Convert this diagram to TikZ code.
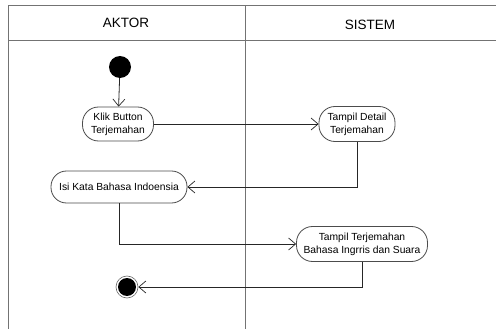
\documentclass[tikz,border=0pt]{standalone}
\usepackage{fontspec}
\setmainfont{Liberation Sans}
\usetikzlibrary{arrows.meta}
\begin{document}
\begin{tikzpicture}[x=1pt,y=-1pt,
  lane/.style={draw=black!55, line width=1pt},
  act/.style={draw=black!70, line width=0.8pt, rounded corners=16pt, fill=white,
    align=center, font=\fontsize{10.3}{12.8}\selectfont, inner sep=0pt},
  flow/.style={draw=black!85, line width=0.8pt,
    -{Straight Barb[length=7pt,width=12pt,line width=0.7pt]}},
  hdr/.style={font=\fontsize{13.5}{15}\selectfont}]
\useasboundingbox (0,0) rectangle (496,329);
% swimlane frame
\draw[lane] (496,6) -- (8,6) -- (8,329);
\draw[lane] (8,41) -- (496,41);
\draw[lane] (245,6) -- (245,329);
\node[hdr] (aktor) at (126,23) {AKTOR};
\node[hdr] (sistem) at (370,25) {SISTEM};
% activities
\node[circle, fill=black, minimum size=22pt, inner sep=0pt] (start) at (120,67) {};
\node[act, minimum width=71pt, minimum height=34pt] (klik) at (118,124) {Klik Button\\Terjemahan};
\node[act, minimum width=76pt, minimum height=35pt] (detail) at (357,124) {Tampil Detail\\Terjemahan};
\node[act, minimum width=136pt, minimum height=32pt, rounded corners=15.5pt] (isi) at (119,187) {Isi Kata Bahasa Indoensia};
\node[act, minimum width=131pt, minimum height=35pt] (hasil) at (362,244) {Tampil Terjemahan\\Bahasa Ingrris dan Suara};
\node[circle, draw=black!60, line width=0.6pt, fill=white, minimum size=22pt, inner sep=0pt] (end) at (127,287) {};
\node[circle, fill=black, minimum size=18pt, inner sep=0pt] (endin) at (end) {};
% control flow
\draw[flow] (start) -- (klik);
\draw[flow] (klik) -- (detail);
\draw[flow] (detail.south) |- (isi.east);
\draw[flow] (isi.south) |- (hasil.west);
\draw[flow] (hasil.south) |- (end.east);
\end{tikzpicture}
\end{document}
